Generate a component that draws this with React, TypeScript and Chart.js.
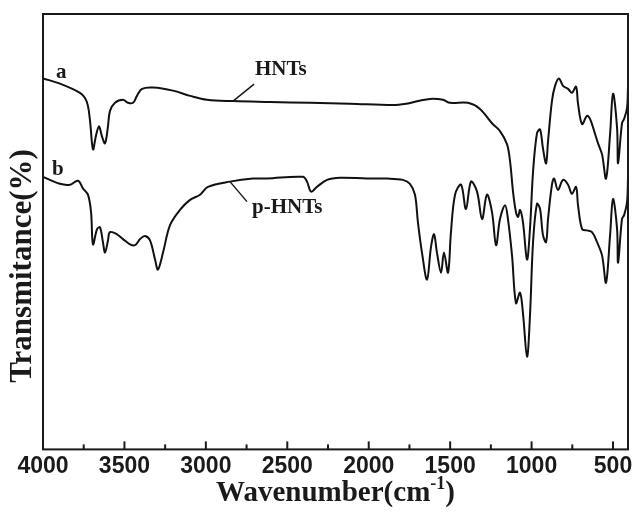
import React, { useEffect, useRef } from "react";
import { Chart, registerables } from "chart.js";

Chart.register(...registerables);

// HNTs (curve a): wavenumber (cm-1) and transmittance (a.u.)
const hntsWave = [4000, 3896, 3773, 3742, 3724, 3711, 3693, 3675, 3656, 3638, 3619, 3601, 3589, 3558, 3509, 3478, 3447, 3423, 3392, 3325, 3202, 3097, 2993, 2833, 2606, 2361, 2115, 1851, 1770, 1697, 1624, 1544, 1501, 1390, 1317, 1243, 1194, 1151, 1132, 1114, 1096, 1083, 1071, 1053, 1028, 1010, 991, 967, 948, 930, 911, 899, 875, 856, 832, 807, 776, 752, 727, 715, 690, 660, 641, 610, 592, 567, 543, 518, 500, 475, 469, 445, 432, 414, 408];
const hntsT = [85.2, 84.0, 81.9, 80.7, 78.9, 75.4, 68.9, 72.0, 74.2, 71.9, 70.3, 74.2, 77.7, 79.6, 80.3, 79.6, 79.6, 81.2, 82.8, 83.1, 82.4, 81.2, 80.3, 80.0, 79.8, 79.6, 79.4, 79.1, 79.4, 80.0, 80.5, 80.3, 79.6, 79.6, 78.2, 74.9, 73.1, 70.1, 66.1, 59.2, 54.5, 53.4, 55.0, 52.2, 43.6, 50.6, 63.8, 72.6, 73.5, 69.1, 65.7, 70.8, 80.0, 83.5, 85.2, 83.5, 82.8, 81.9, 83.3, 79.4, 74.7, 76.6, 75.9, 72.4, 70.3, 67.7, 62.2, 72.4, 81.7, 73.8, 65.7, 74.9, 75.9, 78.4, 83.1];

// p-HNTs (curve b)
const phntsWave = [4000, 3896, 3834, 3785, 3754, 3724, 3705, 3693, 3668, 3650, 3632, 3619, 3601, 3589, 3546, 3509, 3466, 3435, 3404, 3374, 3343, 3312, 3294, 3263, 3220, 3159, 3097, 3036, 2987, 2852, 2711, 2625, 2404, 2379, 2354, 2318, 2256, 2176, 2011, 1888, 1790, 1747, 1716, 1698, 1673, 1642, 1618, 1599, 1581, 1556, 1538, 1513, 1495, 1470, 1433, 1403, 1372, 1335, 1304, 1274, 1243, 1218, 1194, 1163, 1145, 1120, 1096, 1071, 1053, 1028, 1010, 991, 967, 948, 930, 911, 899, 875, 862, 838, 807, 776, 752, 727, 715, 690, 660, 629, 598, 567, 543, 518, 500, 475, 469, 445, 432, 414, 408];
const phntsT = [62.6, 61.0, 60.8, 61.7, 59.9, 58.5, 54.5, 47.1, 50.6, 51.0, 47.6, 45.2, 48.0, 49.9, 49.4, 48.3, 47.1, 46.9, 48.3, 49.0, 48.0, 43.6, 41.3, 45.2, 51.5, 55.0, 57.3, 58.5, 60.3, 61.5, 62.2, 62.2, 62.6, 61.5, 59.2, 60.3, 61.9, 62.4, 62.2, 62.2, 61.9, 61.0, 58.5, 52.2, 45.2, 39.0, 46.4, 49.4, 45.2, 40.6, 45.2, 40.6, 49.9, 58.5, 60.8, 55.2, 61.5, 59.2, 52.9, 58.5, 54.5, 46.9, 52.9, 56.1, 52.9, 44.5, 33.6, 36.0, 31.3, 21.3, 30.6, 47.6, 56.4, 55.2, 49.2, 47.6, 52.9, 60.8, 62.2, 59.6, 61.9, 60.8, 58.7, 60.3, 56.1, 50.6, 50.3, 49.9, 47.6, 44.5, 38.3, 49.2, 57.5, 50.6, 42.9, 52.9, 53.8, 56.8, 62.2];

const xMin = 408;
const xMax = 4000;
const xTickValues = [4000, 3750, 3500, 3250, 3000, 2750, 2500, 2250, 2000, 1750, 1500, 1250, 1000, 750, 500, xMin];

const seriesNames = ["HNTs", "p-HNTs"];
const seriesLetters = ["a", "b"];
const xTitle = "Wavenumber(cm";
const xTitleSup = "-1";
const yTitle = "Transmitance(%)";

const decorPlugin = {
  id: "decor",
  afterDraw(chart: any) {
    const { ctx, chartArea } = chart;
    const { left, right, top, bottom } = chartArea;
    const x = chart.scales.x;
    const y = chart.scales.y;
    ctx.save();
    ctx.strokeStyle = "#1a1a1a";
    ctx.lineWidth = 2;
    ctx.strokeRect(left, top, right - left, bottom - top);
    // inward ticks
    x.ticks.forEach((t: any) => {
      if (t.value % 250 !== 0) return;
      const px = x.getPixelForValue(t.value);
      const major = t.value % 500 === 0;
      ctx.beginPath();
      ctx.moveTo(px, bottom);
      ctx.lineTo(px, bottom - (major ? 8 : 5));
      ctx.stroke();
    });

    ctx.fillStyle = "#1a1a1a";
    // y title
    ctx.save();
    ctx.translate(31, 266);
    ctx.rotate(-Math.PI / 2);
    ctx.font = 'bold 31px "Liberation Serif"';
    ctx.textAlign = "center";
    ctx.textBaseline = "alphabetic";
    ctx.fillText(yTitle, 0, 0);
    ctx.restore();

    // x title with superscript
    const mainFont = 'bold 29px "Liberation Serif"';
    const supFont = 'bold 18px "Liberation Serif"';
    ctx.font = mainFont;
    const w1 = ctx.measureText(xTitle).width;
    const w3 = ctx.measureText(")").width;
    ctx.font = supFont;
    const w2 = ctx.measureText(xTitleSup).width;
    const total = w1 + w2 + w3;
    const cx = (left + right) / 2;
    let sx = cx - total / 2;
    const baseY = 501;
    ctx.textAlign = "left";
    ctx.textBaseline = "alphabetic";
    ctx.font = mainFont;
    ctx.fillText(xTitle, sx, baseY);
    sx += w1;
    ctx.font = supFont;
    ctx.fillText(xTitleSup, sx, baseY - 12);
    sx += w2;
    ctx.font = mainFont;
    ctx.fillText(")", sx, baseY);

    // curve labels
    ctx.font = 'bold 21px "Liberation Serif"';
    ctx.fillText(seriesLetters[0], 56, 78);
    ctx.fillText(seriesLetters[1], 52, 175);
    ctx.fillText(seriesNames[0], 255, 75);
    ctx.fillText(seriesNames[1], 252, 213);

    // leader lines
    ctx.lineWidth = 1.5;
    ctx.beginPath();
    const hx = x.getPixelForValue(2833);
    const hy = y.getPixelForValue(80.0);
    ctx.moveTo(hx, hy);
    ctx.lineTo(hx + 21, hy - 17);
    const px2 = x.getPixelForValue(2852);
    const py2 = y.getPixelForValue(61.5);
    ctx.moveTo(px2, py2);
    ctx.lineTo(px2 + 17, py2 + 20);
    ctx.stroke();
    ctx.restore();
  },
};

export default function App() {
  const canvasRef = useRef<HTMLCanvasElement | null>(null);

  useEffect(() => {
    document.body.style.margin = "0";
    const canvas = canvasRef.current;
    if (!canvas) return;
    const chart = new Chart(canvas, {
      type: "line",
      data: {
        datasets: [
          {
            label: seriesNames[0],
            data: hntsWave.map((w, i) => ({ x: w, y: hntsT[i] })),
            borderColor: "#111",
            borderWidth: 2,
            pointRadius: 0,
            tension: 0.35,
            fill: false,
          },
          {
            label: seriesNames[1],
            data: phntsWave.map((w, i) => ({ x: w, y: phntsT[i] })),
            borderColor: "#111",
            borderWidth: 2,
            pointRadius: 0,
            tension: 0.35,
            fill: false,
          },
        ],
      },
      options: {
        animation: false,
        responsive: true,
        maintainAspectRatio: false,
        layout: { padding: { left: 43, top: 14, right: 5, bottom: 31 } },
        plugins: {
          legend: { display: false },
          tooltip: { enabled: false },
        },
        scales: {
          x: {
            type: "linear",
            reverse: true,
            min: xMin,
            max: xMax,
            afterBuildTicks: (scale: any) => {
              scale.ticks = xTickValues.map((v) => ({ value: v }));
            },
            grid: { display: false, drawTicks: false },
            border: { display: false },
            ticks: {
              autoSkip: false,
              maxRotation: 0,
              padding: 3,
              color: "#1a1a1a",
              font: { family: '"Liberation Sans", Arial, sans-serif', size: 23, weight: "bold" },
              callback: (v: any) => (Number(v) % 500 === 0 ? String(v) : ""),
            },
          },
          y: {
            display: false,
            min: 0,
            max: 100,
          },
        },
      },
      plugins: [decorPlugin],
    });
    return () => chart.destroy();
  }, []);

  return (
    <div style={{ width: 633, height: 514, position: "relative", background: "#fff" }}>
      <canvas ref={canvasRef} />
    </div>
  );
}
